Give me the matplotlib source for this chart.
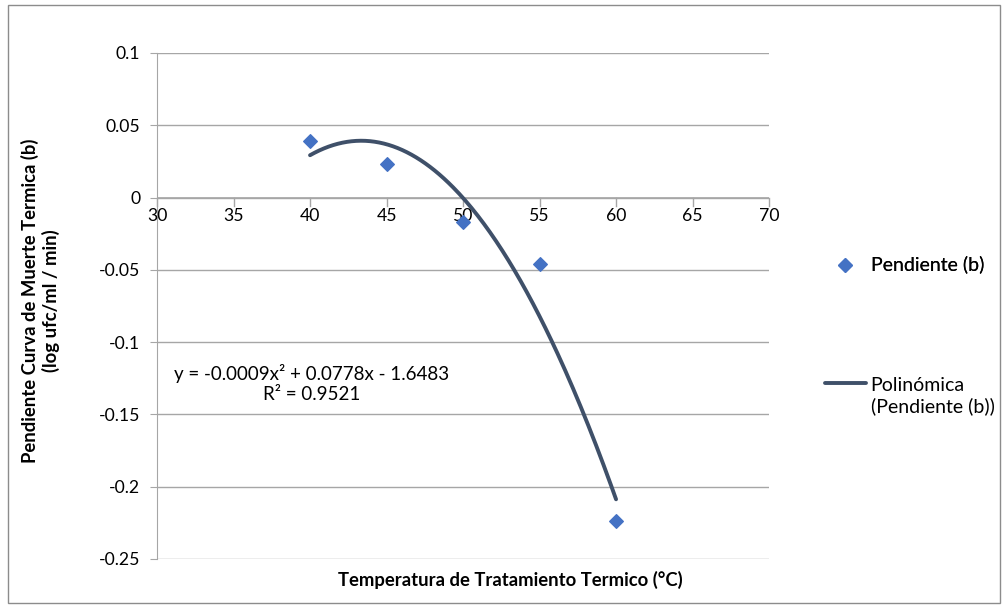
import numpy as np
import matplotlib.pyplot as plt
import matplotlib.patches as mpatches

plt.rcParams['font.family'] = ['Lato', 'DejaVu Sans']

temps = [40, 45, 50, 55, 60]
pendiente = [0.039, 0.023, -0.017, -0.046, -0.224]
x_ticks = [30, 35, 40, 45, 50, 55, 60, 65, 70]
y_ticks = [0.1, 0.05, 0, -0.05, -0.1, -0.15, -0.2, -0.25]
y_labels = ["0.1", "0.05", "0", "-0.05", "-0.1", "-0.15", "-0.2", "-0.25"]

fig = plt.figure(figsize=(10.04, 6.07), dpi=100)
fig.patches.append(mpatches.Rectangle((0.008, 0.006), 0.988, 0.986, transform=fig.transFigure,
                                      fill=False, edgecolor='#8c8c8c', linewidth=1))
ax = fig.add_axes([0.1564, 0.0791, 0.6096, 0.8336])

# polynomial trendline
coef = np.polyfit(temps, pendiente, 2)
xs = np.linspace(min(temps), max(temps), 200)
trend, = ax.plot(xs, np.polyval(coef, xs), color='#3f5069', linewidth=2.8, solid_capstyle='round',
                 zorder=3)
pts = ax.scatter(temps, pendiente, marker='D', s=48, color='#4472c4', zorder=4)

ax.set_xlim(30, 70)
ax.set_ylim(-0.25, 0.1)
ax.set_xticks(x_ticks)
ax.set_yticks(y_ticks)
ax.set_yticklabels(y_labels)
ax.grid(axis='y', color='#a6a6a6', linewidth=1)
ax.set_axisbelow(True)

for s in ['top', 'right', 'bottom']:
    ax.spines[s].set_visible(False)
ax.spines['left'].set_color('#a6a6a6')
ax.axhline(0, color='#a6a6a6', linewidth=1.2, zorder=1)

ax.tick_params(axis='y', length=5, color='#a6a6a6', labelsize=12.7, pad=7)
ax.tick_params(axis='x', length=0, labelsize=12.7, pad=0)
# x tick labels sit along the y=0 line
ax.set_xticklabels([])
for xv in x_ticks:
    ax.plot([xv, xv], [0, -0.0055], color='#a6a6a6', linewidth=1, clip_on=False, zorder=1)
    ax.text(xv, -0.0075, str(xv), ha='center', va='top', fontsize=12.7)

ax.text(0.253, 0.347, 'y = -0.0009x² + 0.0778x - 1.6483\nR² = 0.9521', transform=ax.transAxes,
        ha='center', va='center', fontsize=13.5, linespacing=1.25)

fig.text(0.040, 0.505, 'Pendiente Curva de Muerte Termica (b)\n(log ufc/ml / min)',
         rotation=90, ha='center', va='center', fontsize=13.3, fontweight='bold')
fig.text(0.508, 0.044, 'Temperatura de Tratamiento Termico (°C)', ha='center', va='center',
         fontsize=13.3, fontweight='bold')

leg1 = fig.legend([pts], ['Pendiente (b)'], loc='center left', bbox_to_anchor=(0.8217, 0.565),
                  frameon=False, fontsize=14, handlelength=2.1, handletextpad=0.25,
                  borderpad=0, borderaxespad=0)
leg2 = fig.legend([trend], ['Polinómica\n(Pendiente (b))'], loc='center left',
                  bbox_to_anchor=(0.8217, 0.348), frameon=False, fontsize=14, handlelength=2.1,
                  handletextpad=0.25, borderpad=0, borderaxespad=0)
fig.add_artist(leg1)
# align line handle with the first text line
for ln in leg2.get_lines():
    ln.set_ydata(np.asarray(ln.get_ydata()) + 9)

fig.savefig('out.png', dpi=100)
